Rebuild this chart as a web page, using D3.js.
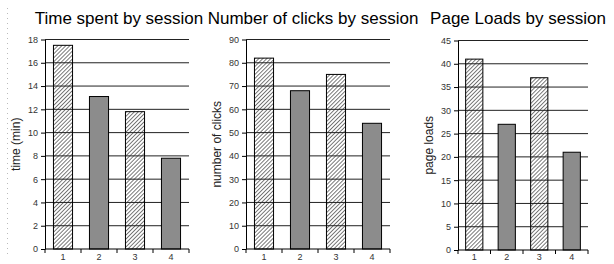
<!DOCTYPE html>
<meta charset="utf-8">
<script src="https://d3js.org/d3.v7.min.js"></script>
<style>
	body{
		margin:0;
		background:#fff;
		font-family: 'Liberation Sans', Arial, sans-serif;
	}
	.axis text{ font-size:9px; fill:#333; font-family:'Liberation Sans', Arial, sans-serif; }
	.axis path, .axis line{ stroke:#000; }
</style>
<div id="chart"></div>
<script>

var sessions = ["1","2","3","4"]

var timeValues = [17.5, 13.1, 11.8, 7.8]
var clickValues = [82, 68, 75, 54]
var loadValues = [41, 27, 37, 21]

var titles = ["Time spent by session","Number of clicks by session","Page Loads by session"]
var yLabels = ["time (min)","number of clicks","page loads"]
var yMax = [18, 90, 45]
var yStep = [2, 10, 5]

var W = 614, H = 264
var svg = d3.select("#chart").append("svg").attr("width",W).attr("height",H)

// hatch pattern for odd sessions
var defs = svg.append("defs")
var pat = defs.append("pattern").attr("id","hatch")
	.attr("patternUnits","userSpaceOnUse").attr("width",2.8).attr("height",2.8)
	.attr("patternTransform","rotate(45)")
pat.append("line").attr("x1",0).attr("y1",0).attr("x2",0).attr("y2",2.8)
	.attr("stroke","#222").attr("stroke-width",1.2)

// faint dotted line on the left edge
svg.append("line").attr("x1",7.5).attr("x2",7.5).attr("y1",8).attr("y2",258)
	.attr("stroke","#bbb").attr("stroke-dasharray","1,4")

// panel layout: axis x, plot right, top y, bottom y, title x, ylabel x
var panels = [
	{data:timeValues, left:45, right:189, top:39.5, bottom:249, tx:119, lx:20},
	{data:clickValues, left:246, right:390, top:39.5, bottom:249, tx:313, lx:221},
	{data:loadValues, left:458, right:588, top:40.5, bottom:250, tx:518, lx:433}
]

panels.forEach(function(p,i){
	var g = svg.append("g")

	var x = d3.scaleBand().domain(sessions).range([p.left,p.right])
	var y = d3.scaleLinear().domain([0,yMax[i]]).range([p.bottom,p.top])
	var ticks = d3.range(0,yMax[i]+yStep[i]/2,yStep[i])

	// gridlines
	g.selectAll(".grid").data(ticks.filter(function(t){return t>0}))
		.join("line")
		.attr("x1",p.left).attr("x2",p.right)
		.attr("y1",function(d){return y(d)}).attr("y2",function(d){return y(d)})
		.attr("stroke","#222").attr("stroke-width",1)

	// bars
	var bw = x.bandwidth()*0.53
	g.selectAll(".bar").data(p.data)
		.join("rect")
		.attr("x",function(d,j){return x(sessions[j])+x.bandwidth()/2-bw/2})
		.attr("width",bw)
		.attr("y",function(d){return y(d)})
		.attr("height",function(d){return y(0)-y(d)})
		.attr("fill",function(d,j){return j%2==0 ? "url(#hatch)" : "#8c8c8c"})
		.attr("stroke","#000").attr("stroke-width",1)

	// y axis
	g.append("g").attr("class","axis")
		.attr("transform","translate("+p.left+",0)")
		.call(d3.axisLeft(y).tickValues(ticks).tickSize(4).tickSizeOuter(0).tickPadding(3))

	// x axis with ticks at band edges
	var xa = g.append("g").attr("class","axis")
	xa.append("line").attr("x1",p.left).attr("x2",p.right)
		.attr("y1",p.bottom).attr("y2",p.bottom).attr("stroke","#000")
	xa.selectAll(".xt").data(sessions)
		.join("line")
		.attr("x1",function(d){return x(d)+x.step()})
		.attr("x2",function(d){return x(d)+x.step()})
		.attr("y1",p.bottom).attr("y2",p.bottom+4).attr("stroke","#000")
	xa.append("line").attr("x1",p.left).attr("x2",p.left)
		.attr("y1",p.bottom).attr("y2",p.bottom+4).attr("stroke","#000")
	xa.selectAll(".xl").data(sessions)
		.join("text")
		.attr("x",function(d){return x(d)+x.bandwidth()/2})
		.attr("y",260)
		.attr("text-anchor","middle")
		.text(function(d){return d})

	// title
	svg.append("text").text(titles[i])
		.attr("x",p.tx).attr("y",24)
		.attr("text-anchor","middle")
		.style("font-size","17px").attr("fill","#000")

	// y label
	svg.append("text").text(yLabels[i])
		.attr("transform","translate("+p.lx+","+((p.top+p.bottom)/2)+") rotate(-90)")
		.attr("text-anchor","middle")
		.style("font-size","12px").attr("fill","#222")
})

</script>
